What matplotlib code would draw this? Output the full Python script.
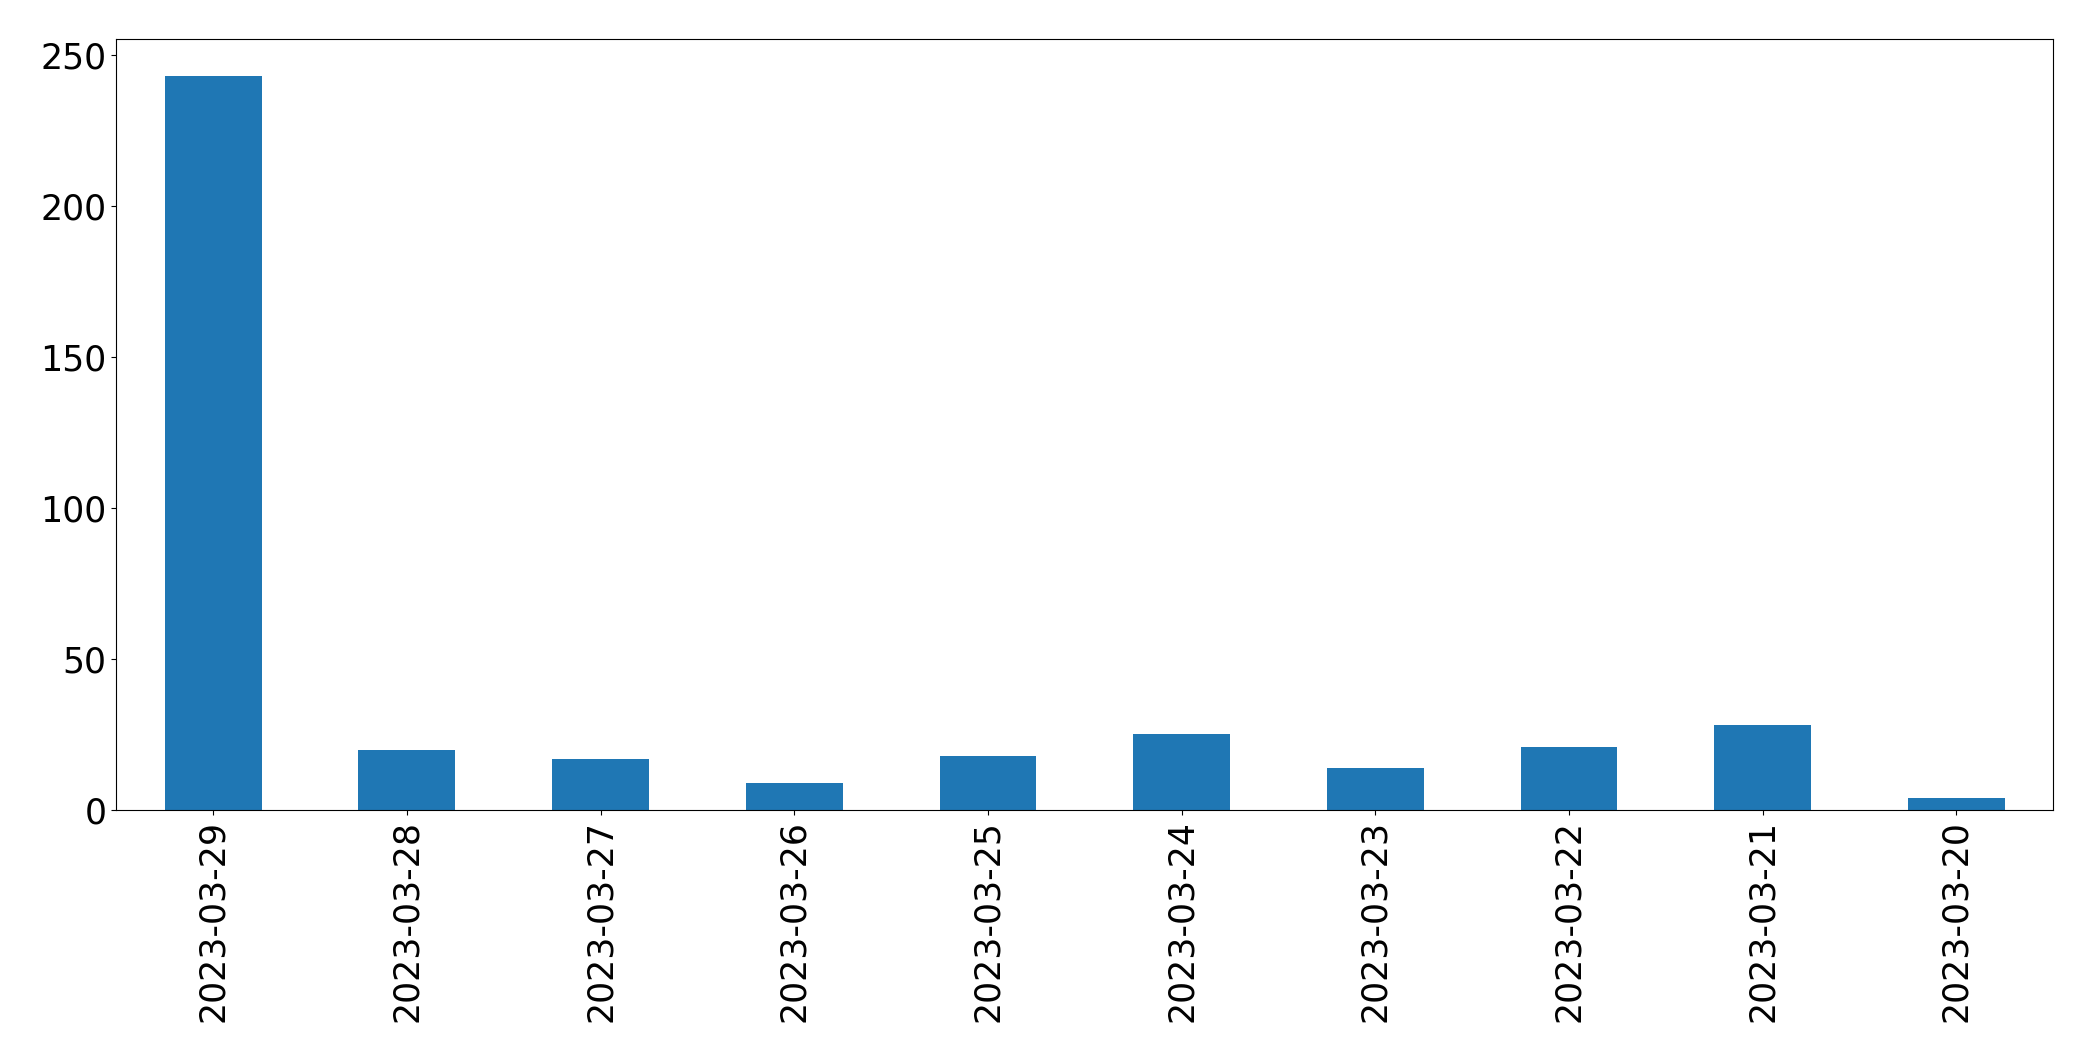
import matplotlib
matplotlib.use("Agg")
import matplotlib.pyplot as plt

# dates in the order shown (newest first)
dates = ["2023-03-29", "2023-03-28", "2023-03-27", "2023-03-26", "2023-03-25",
         "2023-03-24", "2023-03-23", "2023-03-22", "2023-03-21", "2023-03-20"]
counts = [243, 20, 17, 9, 18, 25, 14, 21, 28, 4]

fig = plt.figure(figsize=(20.93, 10.61), dpi=100)
ax = fig.add_axes([0.0556, 0.2366, 0.9254, 0.7264])

x = range(len(dates))
ax.bar(x, counts, width=0.5, color="#1f77b4")
ax.set_xlim(-0.5, len(dates) - 0.5)
ax.set_xticks(list(x))
ax.set_xticklabels(dates, rotation=90)
ax.tick_params(axis="both", labelsize=25)

fig.savefig("out.png", dpi=100)
